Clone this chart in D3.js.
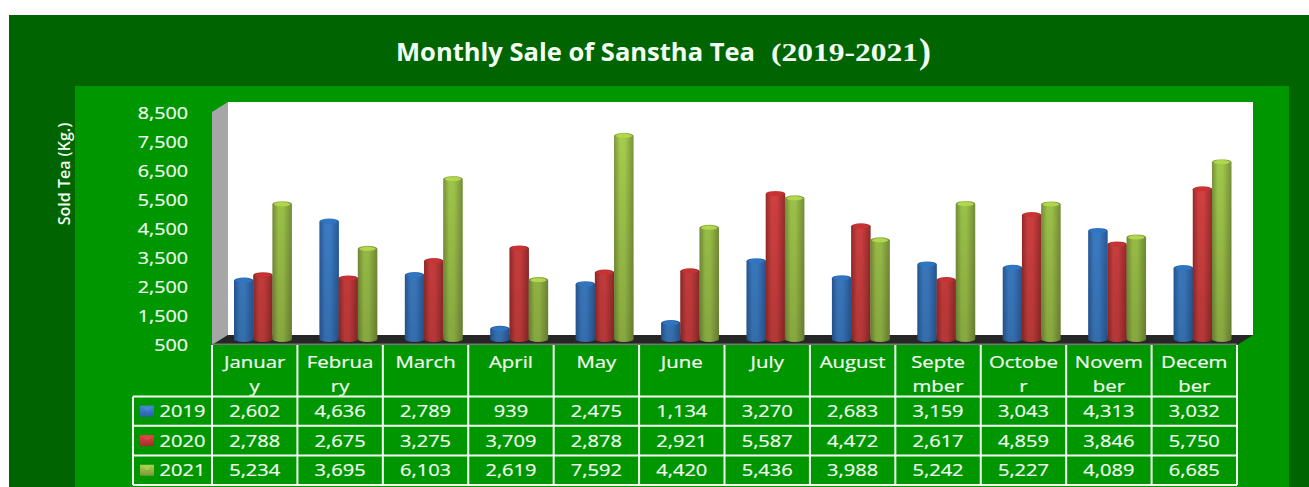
<!DOCTYPE html>
<html>
<head>
<meta charset="utf-8">
<style>
  html, body { margin: 0; padding: 0; background: #fff; overflow: hidden; }
  svg { display: block; }
  text { font-family: "Open Sans", sans-serif; fill: #f2fff2; }
</style>
<script src="https://d3js.org/d3.v7.min.js"></script>
</head>
<body>
<div id="chart"></div>
<script>
const monthLabels = [
  ["Januar", "y"], ["Februa", "ry"], ["March"], ["April"], ["May"], ["June"],
  ["July"], ["August"], ["Septe", "mber"], ["Octobe", "r"], ["Novem", "ber"], ["Decem", "ber"]
];
const years = ["2019", "2020", "2021"];
const sales2019 = [2602, 4636, 2789, 939, 2475, 1134, 3270, 2683, 3159, 3043, 4313, 3032];
const sales2020 = [2788, 2675, 3275, 3709, 2878, 2921, 5587, 4472, 2617, 4859, 3846, 5750];
const sales2021 = [5234, 3695, 6103, 2619, 7592, 4420, 5436, 3988, 5242, 5227, 4089, 6685];
const yTicks = [500, 1500, 2500, 3500, 4500, 5500, 6500, 7500, 8500];

const width = 1309;
const height = 487;
const seriesValues = [sales2019, sales2020, sales2021];
const seriesColors = [
  { edge: "#2a62a8", mid: "#4288d6", top: "#2f74c4" },
  { edge: "#a02e2e", mid: "#e04444", top: "#c83030" },
  { edge: "#7c983c", mid: "#a8d04e", top: "#b2d64e" }
];

const wallX = 228, frontX = 212, rightX = 1253, frontRight = 1237;
const wallTop = 102, floorBack = 335, floorFront = 345;
const tableLeft = 133;
const rowTops = [345, 396.5, 425.8, 455.5, 485];

const svg = d3.select("#chart").append("svg")
  .attr("width", width).attr("height", height)
  .attr("viewBox", `0 0 ${width} ${height}`);
const defs = svg.append("defs");

seriesColors.forEach((c, i) => {
  const grad = defs.append("linearGradient").attr("id", `cyl${i}`);
  grad.selectAll("stop")
    .data([[0, c.edge], [0.3, c.mid], [0.55, c.mid], [1, c.edge]])
    .join("stop")
    .attr("offset", d => d[0])
    .attr("stop-color", d => d[1]);
  const key = defs.append("linearGradient").attr("id", `key${i}`).attr("x2", 0).attr("y2", 1);
  key.selectAll("stop")
    .data([[0, c.mid], [1, c.edge]])
    .join("stop")
    .attr("offset", d => d[0])
    .attr("stop-color", d => d[1]);
});
const shade = defs.append("linearGradient").attr("id", "shade")
  .attr("gradientUnits", "userSpaceOnUse").attr("x1", 0).attr("x2", 0).attr("y1", 110).attr("y2", 341);
shade.append("stop").attr("offset", 0).attr("stop-color", "#000").attr("stop-opacity", 0);
shade.append("stop").attr("offset", 1).attr("stop-color", "#000").attr("stop-opacity", 0.2);
defs.append("filter").attr("id", "soft").append("feGaussianBlur").attr("stdDeviation", 0.45);

// background panels
svg.append("rect").attr("x", 9).attr("y", 15).attr("width", width - 9).attr("height", height - 15).attr("fill", "#006400");
svg.append("rect").attr("x", 75).attr("y", 86).attr("width", 1214).attr("height", height - 86).attr("fill", "#009600");

// walls and floor
svg.append("rect").attr("x", wallX).attr("y", wallTop).attr("width", rightX - wallX).attr("height", floorBack - wallTop)
  .attr("fill", "#fff");
svg.append("path").attr("fill", "#a6a6a6")
  .attr("d", `M${frontX},112 L${wallX},${wallTop} L${wallX},${floorBack} L${frontX},${floorFront} Z`);
svg.append("path").attr("fill", "#262626")
  .attr("d", `M${wallX},${floorBack} L${rightX},${floorBack} L${frontRight},${floorFront} L${frontX},${floorFront} Z`);
svg.append("rect").attr("x", frontX).attr("y", 343.5).attr("width", frontRight - frontX).attr("height", 1.5).attr("fill", "#777");

// y axis labels sit on the front edge, bars stand mid floor
const yFront = d3.scaleLinear().domain([500, 8500]).range([344.5, 113]);
const yBars = d3.scaleLinear().domain([500, 8500]).range([341.5, 109.5]);

const axis = svg.append("g")
  .attr("transform", "translate(188,0)")
  .call(d3.axisLeft(yFront).tickValues(yTicks).tickSize(0).tickPadding(0).tickFormat(d3.format(",")));
axis.select(".domain").remove();
axis.selectAll(".tick text")
  .attr("x", 0)
  .attr("dy", "0.35em")
  .attr("text-anchor", "end")
  .attr("font-size", 17)
  .attr("stroke", "#f2fff2")
  .attr("stroke-width", 0.2)
  .attr("transform", "scale(1.16,1)");

// bars
const xMonth = d3.scaleBand().domain(d3.range(12)).range([frontX, frontRight]);
const barW = 19.5;
const groupOffset = 22;
const rx = barW / 2, ry = 3;

function cylinder(x, yTop, yBase) {
  return `M${x},${yTop} A${rx},${ry} 0 0 1 ${x + barW},${yTop} L${x + barW},${yBase} A${rx},${ry} 0 0 1 ${x},${yBase} Z`;
}
const bars = d3.range(12).flatMap(m => seriesValues.map((vals, s) => ({ m, s, v: vals[m] })));
const barX = d => xMonth(d.m) + groupOffset + d.s * 19.2;
const barBase = yBars(500) - 2.5;
const barG = svg.append("g").attr("filter", "url(#soft)").selectAll("g").data(bars).join("g");
barG.append("path")
  .attr("d", d => cylinder(barX(d), yBars(d.v), barBase))
  .attr("fill", d => `url(#cyl${d.s})`);
barG.append("path")
  .attr("d", d => cylinder(barX(d), yBars(d.v), barBase))
  .attr("fill", "url(#shade)");
barG.append("ellipse")
  .attr("cx", d => barX(d) + rx)
  .attr("cy", d => yBars(d.v))
  .attr("rx", rx - 1.5)
  .attr("ry", ry - 1)
  .attr("fill", d => seriesColors[d.s].top);

// data table
const table = svg.append("g");
const lineStyle = s => s.attr("stroke", "#f4fff4").attr("stroke-width", 2);
table.selectAll("line.v")
  .data(d3.range(13))
  .join("line").attr("class", "v")
  .attr("x1", d => d === 12 ? frontRight : xMonth(d)).attr("x2", d => d === 12 ? frontRight : xMonth(d))
  .attr("y1", rowTops[0]).attr("y2", rowTops[4])
  .call(lineStyle);
table.append("line").attr("x1", tableLeft).attr("x2", tableLeft).attr("y1", rowTops[1]).attr("y2", rowTops[4]).call(lineStyle);
table.selectAll("line.h")
  .data(rowTops.slice(1))
  .join("line").attr("class", "h")
  .attr("x1", tableLeft).attr("x2", frontRight)
  .attr("y1", d => d).attr("y2", d => d)
  .call(lineStyle);

function stretched(sel, x, y, size, sx) {
  return sel.attr("transform", `translate(${x},${y}) scale(${sx},1)`)
    .attr("font-size", size).attr("text-anchor", "middle")
    .attr("stroke", "#f2fff2").attr("stroke-width", 0.2);
}
monthLabels.forEach((lines, m) => {
  lines.forEach((line, i) => {
    table.append("text").text(line)
      .call(stretched, xMonth(m) + xMonth.bandwidth() / 2, 368 + i * 24, 17, 1.2);
  });
});
seriesValues.forEach((vals, s) => {
  const top = rowTops[s + 1], bottom = rowTops[s + 2];
  const base = (top + bottom) / 2 + 6;
  vals.forEach((v, m) => {
    table.append("text").text(d3.format(",")(v))
      .call(stretched, xMonth(m) + xMonth.bandwidth() / 2, base, 17, 1.18);
  });
  table.append("rect").attr("x", 140).attr("y", (top + bottom) / 2 - 5.5).attr("width", 14).attr("height", 11)
    .attr("fill", `url(#key${s})`);
  table.append("path").attr("fill", seriesColors[s].mid)
    .attr("d", `M141,${(top + bottom) / 2 - 5} L153,${(top + bottom) / 2 - 5} L147,${(top + bottom) / 2} Z`);
  table.append("text").text(years[s])
    .call(stretched, 182.5, base, 17, 1.18);
});

// titles
svg.append("text").attr("x", 396).attr("y", 61).attr("font-size", 24.5).attr("font-weight", 700)
  .attr("textLength", 359).attr("lengthAdjust", "spacingAndGlyphs")
  .text("Monthly Sale of Sanstha Tea");
svg.append("text").attr("x", 771).attr("y", 61).attr("font-size", 26).attr("font-weight", 700)
  .attr("font-family", "Liberation Serif").style("font-family", "Liberation Serif")
  .attr("textLength", 147).attr("lengthAdjust", "spacingAndGlyphs")
  .text("(2019-2021");
svg.append("text").attr("x", 919).attr("y", 63).attr("font-size", 36)
  .style("font-family", "Liberation Serif").attr("font-weight", 700)
  .text(")");

svg.append("text")
  .attr("transform", "translate(70,174) rotate(-90)")
  .attr("text-anchor", "middle")
  .attr("font-size", 16)
  .attr("font-weight", 600)
  .text("Sold Tea (Kg.)");
</script>
</body>
</html>
